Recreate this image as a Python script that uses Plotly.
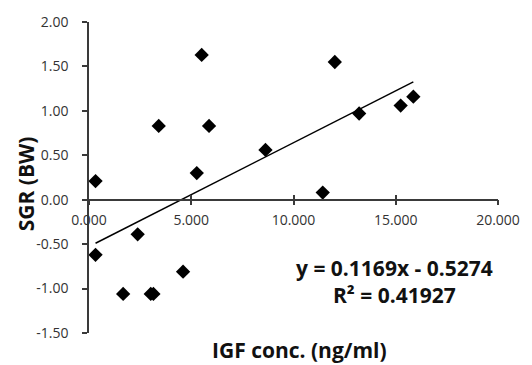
import plotly.graph_objects as go

# Data
igf_conc = [0.32, 0.32, 1.67, 2.38, 3.02, 3.15, 4.60, 5.27, 5.51, 3.41, 5.87, 8.63, 12.02, 13.21, 15.24, 15.86, 11.43]
sgr_bw = [0.21, -0.62, -1.06, -0.39, -1.06, -1.06, -0.81, 0.30, 1.63, 0.83, 0.83, 0.56, 1.55, 0.97, 1.06, 1.16, 0.08]

slope = 0.1169
intercept = -0.5274
r_squared = 0.41927

x_ticks = [0, 5, 10, 15, 20]
x_tick_labels = ["0.000", "5.000", "10.000", "15.000", "20.000"]
y_ticks = [-1.5, -1.0, -0.5, 0.0, 0.5, 1.0, 1.5, 2.0]
y_tick_labels = ["-1.50", "-1.00", "-0.50", "0.00", "0.50", "1.00", "1.50", "2.00"]

FONT = "Open Sans"
AXCOL = "#3a3a3a"

fig = go.Figure()

fig.add_trace(go.Scatter(
    x=igf_conc, y=sgr_bw, mode="markers",
    marker=dict(symbol="diamond", size=11, color="black"),
    showlegend=False, hoverinfo="x+y"))

x_line = [min(igf_conc), max(igf_conc)]
y_line = [slope * v + intercept for v in x_line]
fig.add_trace(go.Scatter(
    x=x_line, y=y_line, mode="lines",
    line=dict(color="black", width=1.5), showlegend=False))

# overlay axis to draw the upward half of cross ticks
fig.add_trace(go.Scatter(x=[0, 20], y=[0, 0], xaxis="x2", mode="none", showlegend=False, hoverinfo="skip"))

y_pos = 1.5 / 3.5

fig.update_layout(
    width=532, height=365,
    margin=dict(l=89, r=23, t=16, b=32),
    paper_bgcolor="white", plot_bgcolor="white",
    font=dict(family=FONT, color="#222"),
    xaxis=dict(
        range=[0, 20], tickvals=x_ticks, ticktext=x_tick_labels,
        showgrid=False, zeroline=False,
        showline=True, linecolor=AXCOL, linewidth=1.5,
        ticks="outside", ticklen=5, tickwidth=1.5, tickcolor=AXCOL,
        ticklabelstandoff=3,
        anchor="free", position=y_pos,
        tickfont=dict(family=FONT, size=14, color="#333"),
    ),
    xaxis2=dict(
        range=[0, 20], tickvals=x_ticks, showticklabels=False,
        overlaying="x", anchor="free", position=y_pos,
        showgrid=False, zeroline=False, showline=False,
        ticks="inside", ticklen=5, tickwidth=1.5, tickcolor=AXCOL,
    ),
    yaxis=dict(
        range=[-1.5, 2.0], tickvals=y_ticks, ticktext=y_tick_labels,
        showgrid=False, zeroline=False,
        showline=True, linecolor=AXCOL, linewidth=1.5,
        ticks="outside", ticklen=5, tickwidth=1.5, tickcolor=AXCOL,
        ticklabelstandoff=11,
        tickfont=dict(family=FONT, size=14, color="#333"),
    ),
    annotations=[
        dict(text="<b>SGR (BW)</b>", xref="paper", yref="paper",
             x=-0.155, y=0.48, textangle=-90, showarrow=False,
             xanchor="center", yanchor="middle",
             font=dict(family=FONT, size=21, color="#111")),
        dict(text="<b>IGF conc. (ng/ml)</b>", xref="paper", yref="paper",
             x=0.515, y=-0.055, showarrow=False,
             xanchor="center", yanchor="middle",
             font=dict(family=FONT, size=21, color="#111")),
        dict(text="<b>y = %.4fx - %.4f</b>" % (slope, -intercept), xref="paper", yref="paper",
             x=0.748, y=0.208, showarrow=False,
             xanchor="center", yanchor="middle",
             font=dict(family=FONT, size=21, color="#111")),
        dict(text="<b>R² = %.5f</b>" % r_squared, xref="paper", yref="paper",
             x=0.748, y=0.122, showarrow=False,
             xanchor="center", yanchor="middle",
             font=dict(family=FONT, size=21, color="#111")),
    ],
)

fig.write_html("out.html")
